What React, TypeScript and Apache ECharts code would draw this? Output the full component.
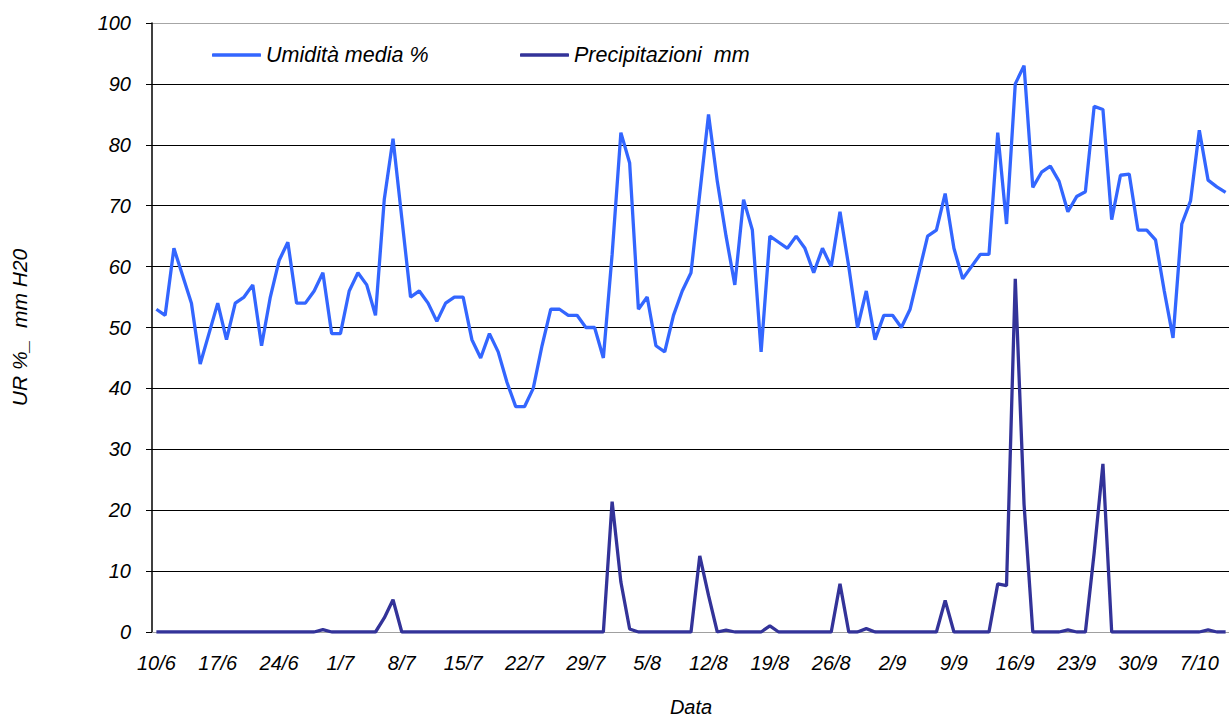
import React, { useEffect, useRef } from "react";
import * as echarts from "echarts";

const dates: string[] = [
  "10/6","11/6","12/6","13/6","14/6","15/6","16/6","17/6","18/6","19/6","20/6","21/6","22/6","23/6","24/6","25/6","26/6","27/6","28/6","29/6","30/6",
  "1/7","2/7","3/7","4/7","5/7","6/7","7/7","8/7","9/7","10/7","11/7","12/7","13/7","14/7","15/7","16/7","17/7","18/7","19/7","20/7","21/7","22/7","23/7","24/7","25/7","26/7","27/7","28/7","29/7","30/7","31/7",
  "1/8","2/8","3/8","4/8","5/8","6/8","7/8","8/8","9/8","10/8","11/8","12/8","13/8","14/8","15/8","16/8","17/8","18/8","19/8","20/8","21/8","22/8","23/8","24/8","25/8","26/8","27/8","28/8","29/8","30/8","31/8",
  "1/9","2/9","3/9","4/9","5/9","6/9","7/9","8/9","9/9","10/9","11/9","12/9","13/9","14/9","15/9","16/9","17/9","18/9","19/9","20/9","21/9","22/9","23/9","24/9","25/9","26/9","27/9","28/9","29/9","30/9",
  "1/10","2/10","3/10","4/10","5/10","6/10","7/10","8/10","9/10","10/10",
];

const humidity: number[] = [
  53, 52, 63, 58.5, 54, 44, 49, 54, 48, 54,
  55, 57, 47, 55, 61, 64, 54, 54, 56, 59,
  49, 49, 56, 59, 57, 52, 71, 81, 68, 55,
  56, 54, 51, 54, 55, 55, 48, 45, 49, 46,
  41, 37, 37, 40, 47, 53, 53, 52, 52, 50,
  50, 45, 62, 82, 77, 53, 55, 47, 46, 52,
  56, 59, 72, 85, 74, 65, 57, 71, 66, 46,
  65, 64, 63, 65, 63, 59, 63, 60, 69, 60,
  50, 56, 48, 52, 52, 50, 53, 59, 65, 66,
  72, 63, 58, 60, 62, 62, 82, 67, 90, 93,
  73, 75.5, 76.5, 74, 69, 71.5, 72.3, 86.3, 85.8, 67.7,
  75, 75.2, 66, 66, 64.4, 56, 48.3, 67, 70.8, 82.4,
  74.2, 73.1, 72.2,
];

const precipitation: number[] = [
  0, 0, 0, 0, 0, 0, 0, 0, 0, 0,
  0, 0, 0, 0, 0, 0, 0, 0, 0, 0.4,
  0, 0, 0, 0, 0, 0, 2.3, 5.3, 0, 0,
  0, 0, 0, 0, 0, 0, 0, 0, 0, 0,
  0, 0, 0, 0, 0, 0, 0, 0, 0, 0,
  0, 0, 21.4, 8.2, 0.5, 0, 0, 0, 0, 0,
  0, 0, 12.5, 6, 0, 0.3, 0, 0, 0, 0,
  1.0, 0, 0, 0, 0, 0, 0, 0, 7.9, 0,
  0, 0.55, 0, 0, 0, 0, 0, 0, 0, 0,
  5.2, 0, 0, 0, 0, 0, 7.9, 7.6, 58, 21,
  0, 0, 0, 0, 0.35, 0, 0, 13, 27.6, 0,
  0, 0, 0, 0, 0, 0, 0, 0, 0, 0,
  0.35, 0, 0,
];

const seriesNames: string[] = ["Umidità media %", "Precipitazioni  mm"];
const seriesColors: string[] = ["#3366FF", "#333399"];

const FONT = "'Liberation Sans', Arial, sans-serif";

export default function App() {
  const ref = useRef<HTMLDivElement>(null);
  useEffect(() => {
    if (!ref.current) return;
    const chart = echarts.init(ref.current, undefined, { renderer: "svg" });
    const txt = { fontFamily: FONT, fontStyle: "italic" as const, fontSize: 20, color: "#000" };
    const legTxt = { ...txt, fontSize: 21.5 };
    const splitColors = ["#000", "#000", "#000", "#000", "#000", "#000", "#000", "#000", "#000", "#000", "#a6a6a6"];
    chart.setOption({
      animation: false,
      backgroundColor: "#fff",
      grid: { left: 152, top: 23, right: -1, bottom: 88, outerBoundsMode: "none", containLabel: false },
      legend: [
        {
          data: [seriesNames[0]],
          left: 207,
          top: 39,
          icon: "roundRect",
          itemWidth: 49,
          itemHeight: 3.5,
          textStyle: legTxt,
        },
        {
          data: [seriesNames[1]],
          left: 515,
          top: 39,
          icon: "roundRect",
          itemWidth: 49,
          itemHeight: 3.5,
          textStyle: legTxt,
        },
      ],
      xAxis: {
        type: "category",
        data: dates,
        boundaryGap: true,
        axisLine: { show: true, lineStyle: { color: "#a0a0a0", width: 1 } },
        axisTick: { show: false },
        axisLabel: { ...txt, interval: 6, margin: 21 },
        splitLine: { show: false },
        name: "Data",
        nameLocation: "middle",
        nameGap: 64,
        nameTextStyle: { ...txt, fontSize: 20, lineHeight: 22 },
      },
      yAxis: {
        type: "value",
        min: 0,
        max: 100,
        interval: 10,
        axisLine: { show: true, lineStyle: { color: "#000", width: 1.5 } },
        axisTick: { show: true, inside: false, length: 6, lineStyle: { color: "#000", width: 1 } },
        axisLabel: { ...txt, margin: 21 },
        splitLine: { show: true, lineStyle: { color: splitColors, width: 1 } },
        name: "UR %_  mm H20",
        nameLocation: "middle",
        nameRotate: 90,
        nameGap: 122,
        nameTextStyle: { ...txt, fontSize: 21 },
      },
      series: [
        {
          name: seriesNames[0],
          type: "line",
          data: humidity,
          symbol: "none",
          showSymbol: false,
          lineStyle: { color: seriesColors[0], width: 3.3 },
          itemStyle: { color: seriesColors[0] },
          z: 3,
        },
        {
          name: seriesNames[1],
          type: "line",
          data: precipitation,
          symbol: "none",
          showSymbol: false,
          lineStyle: { color: seriesColors[1], width: 3.3 },
          itemStyle: { color: seriesColors[1] },
          z: 4,
        },
      ],
    });
    return () => chart.dispose();
  }, []);
  return (
    <div
      ref={ref}
      style={{ position: "fixed", left: 0, top: 0, width: 1229, height: 720, background: "#fff" }}
    />
  );
}
